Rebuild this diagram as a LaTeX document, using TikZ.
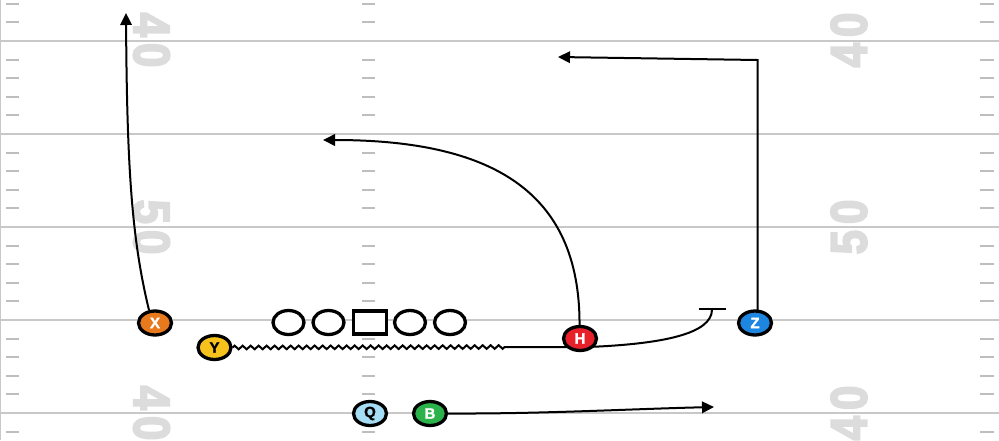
\documentclass[tikz,border=0pt]{standalone}
\usepackage{fontspec}
\setmainfont{Liberation Sans}
\newfontfamily\numfont{Liberation Sans}[BoldFeatures={FakeBold=4}]
\newfontfamily\plfont{Liberation Sans}[BoldFeatures={FakeBold=1.5}]
\usetikzlibrary{shapes.geometric,arrows.meta,decorations.pathmorphing}
\pgfdeclarelayer{field}
\pgfdeclarelayer{routes}
\pgfsetlayers{field,routes,main}
\definecolor{yardgray}{HTML}{C8C8C8}
\definecolor{hashgray}{HTML}{BEBEBE}
\definecolor{numgray}{HTML}{DCDCDC}
\definecolor{xorange}{HTML}{E8791D}
\definecolor{yyellow}{HTML}{F7C21B}
\definecolor{hred}{HTML}{E8202A}
\definecolor{zblue}{HTML}{1D86E0}
\definecolor{qblue}{HTML}{A5DDF5}
\definecolor{bgreen}{HTML}{2CB24A}
\newcommand\ydnum[2]{\scalebox{0.86}[1]{#1}\kern6pt\scalebox{0.86}[1]{#2}}
\begin{document}
\begin{tikzpicture}[x=1pt,y=-1pt,
  yardline/.style={draw=yardgray,line width=2pt},
  hashmark/.style={draw=hashgray,line width=2pt},
  yardnum/.style={text=numgray,inner sep=0pt,font=\fontsize{51}{51}\numfont\bfseries},
  player/.style={ellipse,draw=black,line width=3.3pt,minimum width=33pt,minimum height=24pt,inner sep=0pt,font=\fontsize{15}{15}\plfont\bfseries},
  lineman/.style={ellipse,draw=black,line width=3.3pt,minimum width=31pt,minimum height=24pt,inner sep=0pt,fill=white},
  snapbox/.style={rectangle,draw=black,line width=3.3pt,minimum width=33pt,minimum height=23pt,inner sep=0pt,fill=white},
  route/.style={draw=black,line width=2pt},
  runarrow/.style={-{Triangle[length=12pt,width=11.5pt]}},
  blockend/.style={-{Bar[width=27pt]}}
]
\useasboundingbox (0,0) rectangle (999,440);

% field
\begin{pgfonlayer}{field}
\fill[white] (0,0) rectangle (999,440);
\draw[draw=yardgray,line width=1.2pt] (0.6,0) -- (0.6,440);
\foreach \y in {41,134,227,320,413} \draw[yardline] (0,\y) -- (999,\y);
\foreach \k in {-2,-1,1,2,3,4,6,7,8,9,11,12,13,14,16,17,18,19,21} {
  \pgfmathsetmacro\hy{41+18.6*\k}
  \draw[hashmark] (6,\hy) -- (19,\hy);
  \draw[hashmark] (362,\hy) -- (375,\hy);
  \draw[hashmark] (980,\hy) -- (994,\hy);
}
\node[yardnum,rotate=-90] (nl1) at (151.5,40) {\ydnum{4}{0}};
\node[yardnum,rotate=-90] (nl2) at (151.5,227) {\ydnum{5}{0}};
\node[yardnum,rotate=-90] (nl3) at (151.5,413) {\ydnum{4}{0}};
\node[yardnum,rotate=90] (nr1) at (849,40) {\ydnum{4}{0}};
\node[yardnum,rotate=90] (nr2) at (849,227) {\ydnum{5}{0}};
\node[yardnum,rotate=90] (nr3) at (849,413) {\ydnum{4}{0}};
\end{pgfonlayer}

% players
\node[player,fill=xorange,text=white] (X) at (155,323) {X};
\node[player,fill=yyellow,text=black] (Y) at (214.5,347.5) {Y};
\node[player,fill=hred,text=white] (H) at (580,338.5) {H};
\node[player,fill=zblue,text=white] (Z) at (755,323) {Z};
\node[player,fill=qblue,text=black] (Q) at (370,413.5) {Q};
\node[player,fill=bgreen,text=white] (B) at (430,413.5) {B};

% offensive line
\node[lineman] (LT) at (288.5,322.5) {};
\node[lineman] (LG) at (328.5,322.5) {};
\node[snapbox] (C) at (370,322.5) {};
\node[lineman] (RG) at (410,322.5) {};
\node[lineman] (RT) at (450,322.5) {};

% route end points
\coordinate (xend) at (126,13);
\coordinate (hend) at (323,140);
\coordinate (zc) at (757.5,60);
\coordinate (zend) at (558,57);
\coordinate (zz) at (505,347);
\coordinate (blk) at (712,308);
\coordinate (bend) at (714,407);

\begin{pgfonlayer}{routes}
\draw[route,runarrow] (X.115) .. controls (132,240) and (127,170) .. (xend);
\draw[route,runarrow] (H.92) .. controls (580,190) and (490,140) .. (hend);
\draw[route,runarrow] (Z.center -| zc) -- (zc) -- (zend);
\draw[route,blockend] (Y.east) decorate[decoration={zigzag,segment length=8pt,amplitude=1.8pt}] {-- (zz)} -- (588,347) .. controls (662,344) and (712,334) .. (blk);
\draw[route,runarrow] (B.east) .. controls (540,414) and (630,409) .. (bend);
\end{pgfonlayer}
\end{tikzpicture}
\end{document}
